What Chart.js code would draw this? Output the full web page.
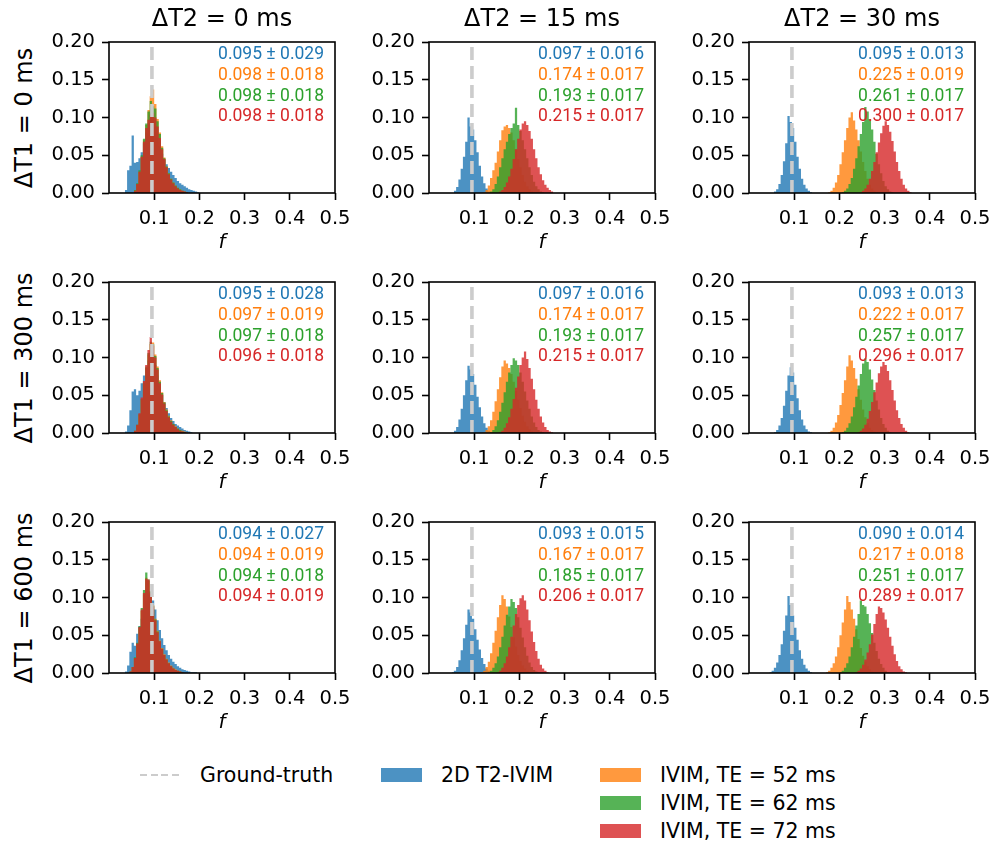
<!DOCTYPE html>
<html>
<head>
<meta charset="utf-8">
<script src="https://cdn.jsdelivr.net/npm/chart.js@4.4.0/dist/chart.umd.min.js"></script>
<style>
  html, body { margin: 0; padding: 0; background: #fff; }
  body { width: 994px; height: 842px; position: relative; overflow: hidden; font-family: 'DejaVu Sans', sans-serif; color: #000; }
  .panel { position: absolute; }
  .col-title { position: absolute; font-size: 24px; transform: translate(-50%, -50%); white-space: nowrap; line-height: 1; }
  .row-title { position: absolute; font-size: 24px; transform: translate(-50%, -50%) rotate(-90deg); white-space: nowrap; line-height: 1; }
  .leg-text { position: absolute; font-size: 20.5px; transform: translateY(-50%); white-space: nowrap; line-height: 1; }
  .leg-patch { position: absolute; width: 41px; height: 14px; transform: translateY(-50%); }
  .leg-dash { position: absolute; width: 41px; height: 2px; transform: translateY(-50%);
              background: repeating-linear-gradient(to right, #cccccc 0 7px, transparent 7px 10.5px); }
</style>
</head>
<body>
<script>
// ---- data -------------------------------------------------------------
const binWidth = 0.005;
const groundTruth = 0.095;
const seriesLabels = ['2D T2-IVIM', 'IVIM, TE = 52 ms', 'IVIM, TE = 62 ms', 'IVIM, TE = 72 ms'];
const dT1Labels = ['ΔT1 = 0 ms', 'ΔT1 = 300 ms', 'ΔT1 = 600 ms'];
const dT2Labels = ['ΔT2 = 0 ms', 'ΔT2 = 15 ms', 'ΔT2 = 30 ms'];
const xTicks = [0.1, 0.2, 0.3, 0.4, 0.5];
const yTicks = [0, 0.05, 0.1, 0.15, 0.2];

// mean and SD of f per panel (row-major), one value per series
const fMeans = [
  [0.095, 0.098, 0.098, 0.098], [0.097, 0.174, 0.193, 0.215], [0.095, 0.225, 0.261, 0.300],
  [0.095, 0.097, 0.097, 0.096], [0.097, 0.174, 0.193, 0.215], [0.093, 0.222, 0.257, 0.296],
  [0.094, 0.094, 0.094, 0.094], [0.093, 0.167, 0.185, 0.206], [0.090, 0.217, 0.251, 0.289]
];
const fSDs = [
  [0.029, 0.018, 0.018, 0.018], [0.016, 0.017, 0.017, 0.017], [0.013, 0.019, 0.017, 0.017],
  [0.028, 0.019, 0.018, 0.018], [0.016, 0.017, 0.017, 0.017], [0.013, 0.017, 0.017, 0.017],
  [0.027, 0.019, 0.018, 0.019], [0.015, 0.017, 0.017, 0.017], [0.014, 0.018, 0.017, 0.017]
];

// left edge of the first bin of each series, per panel
const histStart = [
  [0.035, 0.055, 0.055, 0.055], [0.055, 0.120, 0.135, 0.155], [0.055, 0.175, 0.205, 0.245],
  [0.035, 0.055, 0.055, 0.055], [0.055, 0.120, 0.135, 0.155], [0.055, 0.175, 0.205, 0.240],
  [0.035, 0.045, 0.045, 0.045], [0.050, 0.115, 0.130, 0.150], [0.045, 0.170, 0.200, 0.235]
];

// bin heights (fraction of voxels), series order: 2D T2-IVIM, TE 52, TE 62, TE 72
const histR0C0 = [
  [0.004,0.030,0.036,0.076,0.040,0.041,0.046,0.054,0.066,0.080,0.092,0.100,0.097,0.088,0.074,0.062,0.052,0.044,0.038,0.033,0.028,0.024,0.020,0.016,0.013,0.011,0.009,0.007,0.005,0.004,0.003,0.002,0.001],
  [0.004,0.012,0.028,0.048,0.070,0.090,0.110,0.128,0.137,0.118,0.098,0.080,0.062,0.047,0.035,0.026,0.019,0.014,0.010,0.007,0.005,0.003,0.002,0.001],
  [0.004,0.013,0.030,0.050,0.072,0.092,0.108,0.122,0.115,0.112,0.095,0.078,0.060,0.046,0.035,0.026,0.019,0.014,0.010,0.007,0.005,0.003,0.002,0.001],
  [0.003,0.012,0.028,0.048,0.068,0.086,0.097,0.104,0.106,0.100,0.088,0.073,0.058,0.045,0.034,0.025,0.018,0.013,0.009,0.006,0.004,0.003,0.002,0.001]
];
const histR0C1 = [
  [0.003,0.008,0.018,0.032,0.048,0.068,0.100,0.088,0.084,0.070,0.054,0.036,0.022,0.013,0.006,0.002],
  [0.001,0.004,0.010,0.020,0.030,0.040,0.055,0.070,0.083,0.088,0.090,0.086,0.080,0.070,0.058,0.045,0.034,0.024,0.015,0.009,0.005,0.002,0.001],
  [0.002,0.005,0.012,0.022,0.034,0.046,0.058,0.068,0.078,0.086,0.092,0.113,0.090,0.082,0.070,0.058,0.046,0.034,0.024,0.015,0.009,0.005,0.002,0.001],
  [0.002,0.004,0.008,0.014,0.022,0.032,0.045,0.058,0.072,0.084,0.092,0.095,0.090,0.082,0.072,0.058,0.046,0.034,0.025,0.017,0.011,0.007,0.004,0.002]
];
const histR0C2 = [
  [0.002,0.005,0.012,0.024,0.042,0.066,0.102,0.094,0.086,0.068,0.048,0.032,0.019,0.011,0.006,0.003,0.001],
  [0.001,0.003,0.007,0.014,0.024,0.038,0.054,0.070,0.086,0.100,0.107,0.096,0.084,0.070,0.055,0.041,0.029,0.019,0.011,0.006,0.003,0.001],
  [0.001,0.003,0.006,0.012,0.020,0.032,0.046,0.062,0.078,0.094,0.114,0.108,0.098,0.084,0.068,0.052,0.038,0.026,0.016,0.009,0.005,0.002,0.001],
  [0.001,0.003,0.006,0.011,0.019,0.029,0.041,0.054,0.067,0.079,0.089,0.095,0.090,0.081,0.069,0.055,0.041,0.029,0.019,0.011,0.006,0.003,0.001]
];
const histR1C0 = [
  [0.002,0.010,0.030,0.055,0.058,0.050,0.056,0.066,0.076,0.086,0.096,0.100,0.098,0.090,0.076,0.062,0.050,0.041,0.033,0.026,0.020,0.016,0.012,0.010,0.008,0.006,0.004,0.003,0.002,0.001],
  [0.003,0.010,0.024,0.044,0.066,0.086,0.104,0.118,0.120,0.104,0.088,0.070,0.054,0.041,0.031,0.023,0.017,0.012,0.009,0.006,0.004,0.003,0.002,0.001],
  [0.003,0.011,0.025,0.045,0.067,0.088,0.106,0.121,0.118,0.102,0.086,0.068,0.053,0.040,0.030,0.022,0.016,0.012,0.008,0.006,0.004,0.002,0.001],
  [0.003,0.011,0.026,0.047,0.069,0.090,0.110,0.127,0.116,0.100,0.084,0.066,0.051,0.039,0.029,0.021,0.015,0.011,0.008,0.005,0.003,0.002,0.001]
];
const histR1C1 = [
  [0.003,0.008,0.018,0.032,0.050,0.070,0.089,0.084,0.078,0.064,0.048,0.034,0.022,0.013,0.007,0.003],
  [0.001,0.004,0.009,0.017,0.028,0.042,0.058,0.074,0.088,0.096,0.092,0.086,0.078,0.068,0.056,0.044,0.033,0.023,0.015,0.009,0.005,0.002,0.001],
  [0.001,0.004,0.009,0.017,0.028,0.040,0.054,0.068,0.080,0.090,0.099,0.096,0.090,0.080,0.068,0.055,0.043,0.032,0.022,0.014,0.008,0.004,0.002,0.001],
  [0.001,0.003,0.007,0.013,0.021,0.032,0.045,0.060,0.075,0.090,0.100,0.108,0.098,0.086,0.072,0.058,0.044,0.032,0.022,0.014,0.008,0.004,0.002,0.001]
];
const histR1C2 = [
  [0.001,0.004,0.010,0.020,0.036,0.056,0.076,0.087,0.080,0.064,0.046,0.030,0.018,0.010,0.005,0.002,0.001],
  [0.001,0.003,0.007,0.014,0.024,0.037,0.053,0.070,0.088,0.103,0.096,0.086,0.072,0.058,0.044,0.031,0.021,0.013,0.007,0.004,0.002,0.001],
  [0.001,0.003,0.007,0.013,0.022,0.034,0.048,0.063,0.078,0.092,0.099,0.094,0.084,0.071,0.057,0.043,0.031,0.020,0.012,0.007,0.003,0.001],
  [0.001,0.003,0.006,0.011,0.019,0.029,0.041,0.054,0.067,0.079,0.088,0.094,0.090,0.082,0.070,0.057,0.043,0.030,0.020,0.012,0.007,0.003,0.001]
];
const histR2C0 = [
  [0.002,0.010,0.028,0.040,0.036,0.052,0.062,0.072,0.084,0.096,0.104,0.104,0.096,0.084,0.070,0.057,0.046,0.037,0.030,0.024,0.019,0.015,0.012,0.009,0.007,0.005,0.004,0.003,0.002,0.001,0.001,0.001],
  [0.002,0.008,0.020,0.038,0.060,0.082,0.104,0.126,0.122,0.108,0.090,0.072,0.056,0.043,0.033,0.025,0.019,0.014,0.010,0.007,0.005,0.003,0.002,0.001],
  [0.002,0.008,0.021,0.040,0.062,0.086,0.110,0.133,0.124,0.108,0.089,0.071,0.055,0.042,0.032,0.024,0.018,0.013,0.009,0.006,0.004,0.003,0.002,0.001],
  [0.002,0.008,0.020,0.039,0.061,0.084,0.106,0.125,0.124,0.106,0.088,0.070,0.054,0.042,0.032,0.024,0.018,0.013,0.009,0.006,0.004,0.003,0.002,0.001]
];
const histR2C1 = [
  [0.001,0.003,0.008,0.017,0.030,0.046,0.064,0.084,0.080,0.072,0.058,0.044,0.031,0.020,0.012,0.006,0.003,0.001],
  [0.001,0.003,0.008,0.015,0.026,0.040,0.056,0.074,0.090,0.103,0.098,0.088,0.075,0.061,0.047,0.035,0.024,0.016,0.010,0.006,0.003,0.001],
  [0.001,0.003,0.007,0.013,0.022,0.034,0.048,0.063,0.077,0.088,0.098,0.094,0.086,0.074,0.060,0.047,0.034,0.023,0.014,0.008,0.004,0.002,0.001],
  [0.001,0.003,0.007,0.013,0.022,0.034,0.048,0.063,0.078,0.090,0.099,0.103,0.096,0.084,0.070,0.055,0.041,0.029,0.019,0.011,0.006,0.003,0.001]
];
const histR2C2 = [
  [0.001,0.003,0.007,0.014,0.024,0.038,0.056,0.076,0.102,0.090,0.076,0.060,0.044,0.030,0.019,0.011,0.006,0.003,0.001],
  [0.001,0.003,0.007,0.013,0.022,0.034,0.050,0.067,0.084,0.102,0.094,0.084,0.072,0.058,0.045,0.033,0.023,0.015,0.009,0.005,0.002,0.001],
  [0.001,0.003,0.007,0.013,0.022,0.034,0.048,0.063,0.078,0.096,0.090,0.088,0.078,0.066,0.053,0.040,0.029,0.019,0.012,0.007,0.003,0.001],
  [0.001,0.003,0.006,0.011,0.018,0.027,0.038,0.051,0.065,0.078,0.088,0.086,0.080,0.071,0.060,0.048,0.036,0.025,0.016,0.009,0.005,0.002,0.001]
];
const histograms = [histR0C0, histR0C1, histR0C2, histR1C0, histR1C1, histR1C2, histR2C0, histR2C1, histR2C2];

// ---- styling / layout ------------------------------------------------
const lineColors = ['#1f77b4', '#ff7f0e', '#2ca02c', '#d62728'];
const fillColors = ['rgba(31,119,180,0.8)', 'rgba(255,127,14,0.8)', 'rgba(44,160,44,0.8)', 'rgba(214,39,40,0.8)'];
const plotLeft = [109, 429, 749];
const plotTop = [42, 282, 522];
const plotW = 226, plotH = 151;
const padL = 70, padT = 12, padR = 16, padB = 62;
const tickFont = { family: 'DejaVu Sans', size: 19.5 };

// left bin edges plus a closing point so the stepped fill drops back to zero
function histPoints(start, heights) {
  const pts = heights.map((h, i) => ({ x: start + i * binWidth, y: h }));
  pts.push({ x: start + heights.length * binWidth, y: 0 });
  return pts;
}

// full box around the plot area, matplotlib style
const framePlugin = {
  id: 'frame',
  afterDatasetsDraw(chart) {
    const { ctx, chartArea: a } = chart;
    ctx.save();
    ctx.strokeStyle = '#000';
    ctx.lineWidth = 1.6;
    ctx.strokeRect(a.left, a.top, a.right - a.left, a.bottom - a.top);
    ctx.restore();
  }
};

// mean ± SD lines in the top-right corner
const statsPlugin = {
  id: 'stats',
  afterDraw(chart, args, opts) {
    const { ctx, chartArea: a } = chart;
    ctx.save();
    ctx.font = '17.5px Roboto';
    ctx.textAlign = 'right';
    ctx.textBaseline = 'middle';
    opts.means.forEach((m, i) => {
      ctx.fillStyle = lineColors[i];
      ctx.fillText(m.toFixed(3) + ' ± ' + opts.sds[i].toFixed(3), a.right - 11, a.top + 13 + i * 20.7);
    });
    ctx.restore();
  }
};

function makePanel(row, col) {
  const k = row * 3 + col;
  const wrap = document.createElement('div');
  wrap.className = 'panel';
  wrap.style.left = (plotLeft[col] - padL) + 'px';
  wrap.style.top = (plotTop[row] - padT) + 'px';
  const canvas = document.createElement('canvas');
  canvas.width = padL + plotW + padR;
  canvas.height = padT + plotH + padB;
  wrap.appendChild(canvas);
  document.body.appendChild(wrap);

  const datasets = [{
    label: 'Ground-truth',
    data: [{ x: groundTruth, y: 0 }, { x: groundTruth, y: 0.2 }],
    borderColor: '#cccccc',
    borderWidth: 3.6,
    borderDash: [13, 6],
    fill: false,
    order: 0
  }];
  histograms[k].forEach((heights, s) => {
    datasets.push({
      label: seriesLabels[s],
      data: histPoints(histStart[k][s], heights),
      stepped: 'before',
      fill: 'origin',
      backgroundColor: fillColors[s],
      borderColor: 'rgba(0,0,0,0)',
      borderWidth: 0,
      order: 4 - s
    });
  });

  new Chart(canvas, {
    type: 'line',
    data: { datasets },
    plugins: [framePlugin, statsPlugin],
    options: {
      responsive: false,
      animation: false,
      devicePixelRatio: 1,
      layout: { padding: { left: 0, top: padT, right: padR, bottom: 0 } },
      elements: { point: { radius: 0, hoverRadius: 0 }, line: { tension: 0 } },
      plugins: {
        legend: { display: false },
        tooltip: { enabled: false },
        stats: { means: fMeans[k], sds: fSDs[k] }
      },
      scales: {
        x: {
          type: 'linear', min: 0, max: 0.5,
          afterBuildTicks: s => { s.ticks = xTicks.map(v => ({ value: v })); },
          afterFit: s => { s.height = padB; s.paddingLeft = 0; s.paddingRight = 0; },
          ticks: { font: tickFont, color: '#000', padding: 7, maxRotation: 0, autoSkip: false,
                   callback: v => v.toFixed(1) },
          grid: { drawOnChartArea: false, drawTicks: true, tickLength: 7, tickWidth: 1.6, tickColor: '#000' },
          border: { display: false },
          title: { display: true, text: 'f', color: '#000', padding: 0,
                   font: { family: 'DejaVu Sans', size: 20, style: 'italic' } }
        },
        y: {
          type: 'linear', min: 0, max: 0.2,
          afterBuildTicks: s => { s.ticks = yTicks.map(v => ({ value: v })); },
          afterFit: s => { s.width = padL; s.paddingTop = 0; s.paddingBottom = 0; },
          ticks: { font: tickFont, color: '#000', padding: 7, callback: v => v.toFixed(2) },
          grid: { drawOnChartArea: false, drawTicks: true, tickLength: 7, tickWidth: 1.6, tickColor: '#000' },
          border: { display: false }
        }
      }
    }
  });
}

for (let r = 0; r < 3; r++) {
  for (let c = 0; c < 3; c++) makePanel(r, c);
}

// column and row headings
dT2Labels.forEach((t, c) => {
  const d = document.createElement('div');
  d.className = 'col-title';
  d.textContent = t;
  d.style.left = (plotLeft[c] + plotW / 2) + 'px';
  d.style.top = '18px';
  document.body.appendChild(d);
});
dT1Labels.forEach((t, r) => {
  const d = document.createElement('div');
  d.className = 'row-title';
  d.textContent = t;
  d.style.left = '24px';
  d.style.top = (plotTop[r] + plotH / 2) + 'px';
  document.body.appendChild(d);
});

// figure legend below the grid
function addLegendItem(kind, color, text, x, y) {
  const h = document.createElement('div');
  h.className = kind === 'dash' ? 'leg-dash' : 'leg-patch';
  if (kind !== 'dash') h.style.background = color;
  h.style.left = x + 'px';
  h.style.top = y + 'px';
  document.body.appendChild(h);
  const t = document.createElement('div');
  t.className = 'leg-text';
  t.textContent = text;
  t.style.left = (x + 60) + 'px';
  t.style.top = y + 'px';
  document.body.appendChild(t);
}
addLegendItem('dash', null, 'Ground-truth', 140, 775);
addLegendItem('patch', fillColors[0], seriesLabels[0], 381, 775);
addLegendItem('patch', fillColors[1], seriesLabels[1], 600, 775);
addLegendItem('patch', fillColors[2], seriesLabels[2], 600, 803);
addLegendItem('patch', fillColors[3], seriesLabels[3], 600, 831);
</script>
</body>
</html>
